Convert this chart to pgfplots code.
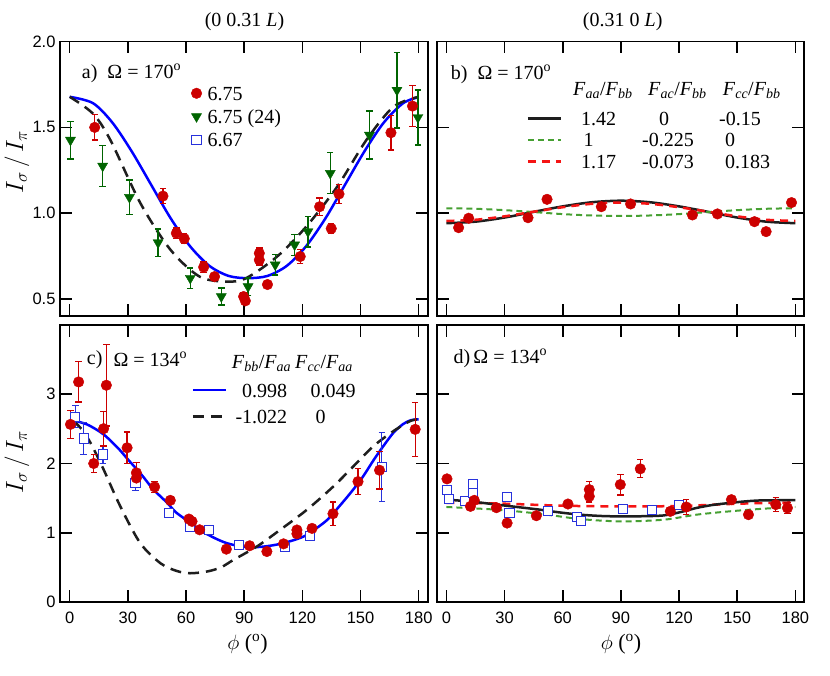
\documentclass[border=0pt]{standalone}
\usepackage{fontspec}
\setmainfont{Liberation Serif}
\setsansfont{Liberation Sans}
\usepackage{pgfplots}
\pgfplotsset{compat=1.18}
\definecolor{mred}{RGB}{204,0,0}
\definecolor{mgreen}{RGB}{0,100,0}
\definecolor{mblue}{RGB}{40,50,220}
\definecolor{cblue}{RGB}{0,0,255}
\definecolor{cblack}{RGB}{30,30,30}
\definecolor{cgreen}{RGB}{70,160,50}
\definecolor{cred}{RGB}{245,20,20}
\newcommand\bigf{\fontsize{20}{24}\selectfont}
% frame and inward ticks on all four sides
\newcommand\myframe[3]{%
  \pgfplotsinvokeforeach{0,30,60,90,120,150,180}{%
    \draw[line width=1.6pt, black] (axis cs:##1,#1) -- ++(0pt,12pt);
    \draw[line width=1.6pt, black] (axis cs:##1,#2) -- ++(0pt,-12pt);}
  \pgfplotsinvokeforeach{#3}{%
    \draw[line width=1.6pt, black] (axis cs:-5,##1) -- ++(12pt,0pt);
    \draw[line width=1.6pt, black] (axis cs:184.6,##1) -- ++(-12pt,0pt);}
  \draw[line width=1.8pt, black] (rel axis cs:0,0) rectangle (rel axis cs:1,1);
}
\pgfplotsset{
 myPanel/.style={scale only axis, width=367.6pt, xmin=-5, xmax=184.6, xtick={0,30,...,180},
   clip=false, tick align=inside, major tick length=12pt,
   major tick style={line width=1.6pt, black},
   tick label style={font=\sffamily\fontsize{16.5}{18}\selectfont},
   /pgf/number format/assume math mode=true,
   xticklabel style={yshift=-6.5pt}, yticklabel style={xshift=-1pt}},
 myUpper/.style={height=274.8pt, ymin=0.4, ymax=2.0, ytick={0.5,1.0,1.5,2.0}, xticklabels={}},
 myLower/.style={height=277pt, ymin=0, ymax=4, ytick={0,1,2,3}},
 redpts/.style={only marks, mark=*, mark size=5.3pt, color=mred, mark options={fill=mred, line width=0.4pt},
   error bars/y dir=both, error bars/y explicit,
   error bars/error bar style={line width=1.3pt, color=mred},
   error bars/error mark options={rotate=90, mark size=3.2pt, line width=1.3pt, color=mred}},
 greenpts/.style={only marks, mark=triangle*, mark size=5.8pt, color=mgreen, mark options={rotate=180, fill=mgreen, line width=0.4pt},
   error bars/y dir=both, error bars/y explicit,
   error bars/error bar style={line width=1.3pt, color=mgreen},
   error bars/error mark options={rotate=90, mark size=3.2pt, line width=1.3pt, color=mgreen}},
 bluepts/.style={only marks, mark=square*, mark size=4.6pt, color=mblue, mark options={fill=white, line width=1pt},
   error bars/y dir=both, error bars/y explicit,
   error bars/error bar style={line width=1.3pt, color=mblue},
   error bars/error mark options={rotate=90, mark size=3.2pt, line width=1.3pt, color=mblue}},
}
\begin{document}
\begin{tikzpicture}
\useasboundingbox (0pt,0pt) rectangle (830pt,675pt);

% ---------------- panel a ----------------
\begin{axis}[myPanel, myUpper, at={(60pt,358.7pt)}, anchor=south west,
  yticklabel style={/pgf/number format/.cd, fixed, fixed zerofill, precision=1},
  legend image code/.code={\draw[#1] plot coordinates {(0pt,0pt)};},
  legend cell align=left,
  legend style={at={(0.357,0.837)}, anchor=north west, draw=none, fill=none, inner sep=0pt, outer sep=0pt,
    row sep=9.3pt, column sep=5.8pt, nodes={inner sep=0pt, text height=14pt, text depth=0pt}, font=\bigf}]
\myframe{0.4}{2.0}{0.5,1.0,1.5,2.0}
\addplot[cblue, line width=2.5pt, smooth, forget plot] table[row sep=\\] {
0 1.678\\ 12 1.641\\ 22 1.528\\ 32 1.360\\ 42 1.166\\ 52 0.972\\ 62 0.809\\ 72 0.694\\ 82 0.635\\ 92 0.622\\
102 0.635\\ 112 0.694\\ 122 0.809\\ 132 0.972\\ 142 1.166\\ 152 1.360\\ 162 1.528\\ 172 1.641\\ 180 1.676\\
};
\addplot[cblack, line width=2.5pt, dash pattern=on 11pt off 7pt, smooth, forget plot] table[row sep=\\] {
0 1.678\\ 12 1.58\\ 21 1.426\\ 36.5 1.058\\ 52 0.787\\ 67 0.631\\ 81 0.602\\ 91 0.622\\ 107 0.748\\ 122 0.922\\
138 1.155\\ 153 1.426\\ 167 1.62\\ 180 1.678\\
};
\addplot[redpts] table[row sep=\\, y error index=2] {
12.9 1.50 0.073\\ 48.1 1.10 0.044\\ 55.0 0.884 0.03\\ 59.1 0.852 0.03\\ 69.1 0.686 0.03\\ 74.7 0.631 0.02\\
89.7 0.515 0.02\\ 90.6 0.49 0.02\\ 97.8 0.767 0.03\\ 97.8 0.728 0.03\\ 102.0 0.585 0.015\\ 118.9 0.748 0.04\\
128.9 1.038 0.05\\ 134.9 0.911 0.03\\ 138.9 1.112 0.055\\ 165.7 1.469 0.10\\ 176.8 1.624 0.12\\
};
\addlegendentry{6.75}
\addplot[greenpts] table[row sep=\\, y error index=2] {
0.4 1.426 0.11\\ 17.0 1.275 0.12\\ 30.8 1.093 0.10\\ 45.6 0.829 0.08\\ 62.2 0.622 0.06\\ 78.2 0.515 0.05\\
92.0 0.573 0.05\\ 106.0 0.700 0.06\\ 116.0 0.816 0.06\\ 122.9 0.893 0.09\\ 134.4 1.233 0.12\\ 154.6 1.455 0.14\\
168.8 1.717 0.22\\ 179.6 1.558 0.16\\
};
\addlegendentry{6.75 (24)}
\addlegendimage{only marks, mark=square*, mark size=4.6pt, color=mblue, mark options={fill=white, line width=1pt}}
\addlegendentry{6.67}
\end{axis}

% ---------------- panel b ----------------
\begin{axis}[myPanel, myUpper, at={(436.7pt,358.7pt)}, anchor=south west, yticklabels={},
  legend image code/.code={\draw[#1] (0pt,0pt) -- (33pt,0pt);},
  legend cell align=left,
  legend style={at={(0.2447,0.746)}, anchor=north west, draw=none, fill=none, inner sep=0pt, outer sep=0pt,
    row sep=7.5pt, column sep=19pt, nodes={inner sep=0pt, text height=14pt, text depth=0pt}, font=\bigf}]
\myframe{0.4}{2.0}{0.5,1.0,1.5,2.0}
\addplot[cblack, line width=2.5pt, smooth] table[row sep=\\] {
0 0.942\\ 15 0.951\\ 30 0.975\\ 45 1.008\\ 60 1.040\\ 75 1.064\\ 90 1.073\\ 105 1.064\\ 120 1.040\\ 135 1.008\\
150 0.975\\ 165 0.951\\ 180 0.942\\
};
\addlegendentry{\makebox[61pt][l]{1.42}\makebox[77pt][l]{\hspace{17pt}0}-0.15}
\addplot[cgreen, line width=2pt, dash pattern=on 6pt off 4pt, smooth] table[row sep=\\] {
0 1.029\\ 15 1.026\\ 30 1.018\\ 45 1.007\\ 60 0.995\\ 75 0.987\\ 90 0.984\\ 105 0.987\\ 120 0.995\\ 135 1.007\\
150 1.018\\ 165 1.026\\ 180 1.029\\
};
\addlegendentry{\makebox[61pt][l]{\hspace{2.5pt}1}\makebox[77pt][l]{-0.225}\hspace{6pt}0}
\addplot[cred, line width=2.5pt, dash pattern=on 8pt off 6pt, smooth] table[row sep=\\] {
0 0.955\\ 15 0.962\\ 30 0.982\\ 45 1.009\\ 60 1.035\\ 75 1.055\\ 90 1.062\\ 105 1.055\\ 120 1.035\\ 135 1.009\\
150 0.982\\ 165 0.962\\ 180 0.955\\
};
\addlegendentry{\makebox[61pt][l]{1.17}\makebox[77pt][l]{-0.073}\hspace{6pt}0.183}
\addplot[only marks, mark=*, mark size=5.3pt, color=mred, mark options={line width=0.4pt}, forget plot] table[row sep=\\] {
6.3 0.916\\ 11.5 0.971\\ 42.1 0.974\\ 51.9 1.081\\ 79.9 1.038\\ 95.0 1.054\\ 126.9 0.990\\ 139.8 0.996\\
158.9 0.951\\ 164.9 0.893\\ 178.0 1.062\\
};
\end{axis}

% ---------------- panel c ----------------
\begin{axis}[myPanel, myLower, at={(60pt,73pt)}, anchor=south west,
  legend image code/.code={\draw[#1] (0pt,0pt) -- (33pt,0pt);},
  legend cell align=left,
  legend style={at={(0.3584,0.7906)}, anchor=north west, draw=none, fill=none, inner sep=0pt, outer sep=0pt,
    row sep=12.7pt, column sep=8.3pt, nodes={inner sep=0pt, text height=14pt, text depth=0pt}, font=\bigf}]
\myframe{0}{4}{1,2,3}
\addplot[cblue, line width=2.5pt, smooth] table[row sep=\\] {
0 2.63\\ 5 2.60\\ 10 2.55\\ 17.5 2.42\\ 25 2.22\\ 30 2.06\\ 37 1.84\\ 43 1.63\\ 50 1.44\\ 55 1.29\\ 62 1.15\\
67 1.04\\ 75 0.92\\ 81 0.85\\ 87 0.81\\ 93 0.79\\ 100 0.80\\ 107 0.83\\ 114 0.88\\ 121 0.95\\ 127 1.06\\
133 1.19\\ 139 1.38\\ 145 1.58\\ 151 1.80\\ 157 2.06\\ 162 2.26\\ 167 2.445\\ 172 2.57\\ 176 2.625\\ 180 2.638\\
};
\addlegendentry{\makebox[75pt][l]{\hspace{6.7pt}0.998}0.049}
\addplot[cblack, line width=2.5pt, dash pattern=on 11pt off 7pt, smooth] table[row sep=\\] {
2 2.613\\ 6 2.50\\ 10.7 2.30\\ 17.5 1.913\\ 26.1 1.381\\ 36.4 0.85\\ 46.8 0.56\\ 55 0.45\\ 62 0.415\\ 70.8 0.44\\
78 0.50\\ 84.5 0.609\\ 96.6 0.802\\ 108.6 1.043\\ 122.4 1.333\\ 136.1 1.671\\ 146.4 1.961\\ 156.7 2.251\\
167 2.468\\ 175.6 2.613\\ 180 2.638\\
};
\addlegendentry{\makebox[75pt][l]{-1.022}\hspace{5pt}0}
\addplot[bluepts, forget plot] table[row sep=\\, y error index=2] {
2.9 2.676 0.16\\ 7.2 2.362 0.23\\ 17.2 2.13 0.13\\ 33.9 1.72 0.11\\ 51.1 1.285 0.03\\ 62.2 1.082 0.03\\
72.0 1.043 0.03\\ 87.5 0.826 0.03\\ 111.2 0.793 0.03\\ 124.1 0.957 0.07\\ 161.0 1.952 0.50\\
};
\addplot[redpts, forget plot] table[row sep=\\, y error index=2] {
0.4 2.565 0.2\\ 4.6 3.178 0.29\\ 12.4 2.00 0.13\\ 17.5 2.503 0.25\\ 18.9 3.13 0.59\\ 29.6 2.227 0.23\\
34.4 1.865 0.15\\ 34.4 1.79 0.10\\ 43.8 1.662 0.08\\ 51.9 1.468 0.05\\ 61.5 1.198 0.04\\ 63.1 1.164 0.04\\
67.0 1.043 0.04\\ 80.8 0.763 0.03\\ 92.8 0.812 0.03\\ 101.7 0.729 0.03\\ 110.3 0.840 0.04\\ 117.2 0.985 0.05\\
117.2 1.04 0.05\\ 125.0 1.063 0.05\\ 135.8 1.275 0.17\\ 148.7 1.739 0.19\\ 159.8 1.903 0.27\\ 178.2 2.493 0.39\\
};
\end{axis}

% ---------------- panel d ----------------
\begin{axis}[myPanel, myLower, at={(436.7pt,73pt)}, anchor=south west, yticklabels={}]
\myframe{0}{4}{1,2,3}
\addplot[cgreen, line width=2pt, dash pattern=on 6pt off 4pt, smooth] table[row sep=\\] {
0 1.372\\ 26 1.333\\ 48 1.275\\ 69 1.198\\ 90 1.164\\ 112 1.188\\ 129 1.261\\ 146 1.309\\ 164 1.348\\ 180 1.372\\
};
\addplot[cred, line width=2.5pt, dash pattern=on 8pt off 6pt, smooth] table[row sep=\\] {
0 1.43\\ 15 1.43\\ 35 1.415\\ 60 1.39\\ 90 1.381\\ 120 1.386\\ 146 1.415\\ 164 1.43\\ 180 1.439\\
};
\addplot[cblack, line width=2.5pt, smooth] table[row sep=\\] {
0 1.478\\ 13 1.45\\ 26 1.406\\ 37 1.37\\ 48.3 1.333\\ 58 1.295\\ 69 1.261\\ 80 1.242\\ 89.7 1.236\\ 100 1.238\\
112 1.25\\ 121 1.30\\ 129 1.358\\ 137 1.40\\ 146 1.43\\ 155 1.455\\ 163.6 1.468\\ 180 1.47\\
};
\addplot[bluepts] table[row sep=\\, y error index=2] {
0.3 1.623 0.02\\ 1.2 1.488 0.02\\ 9.8 1.453 0.02\\ 13.7 1.696 0.05\\ 13.7 1.575 0.03\\ 31.3 1.517 0.02\\
32.5 1.285 0.02\\ 52.2 1.319 0.03\\ 67.3 1.227 0.02\\ 69.6 1.174 0.02\\ 90.9 1.343 0.06\\ 105.9 1.333 0.04\\
119.8 1.406 0.04\\
};
\addplot[redpts] table[row sep=\\, y error index=2] {
0.3 1.778 0.03\\ 12.4 1.381 0.03\\ 14.4 1.468 0.03\\ 25.8 1.362 0.03\\ 31.3 1.14 0.03\\ 46.4 1.246 0.03\\
62.7 1.415 0.03\\ 73.7 1.623 0.12\\ 73.7 1.526 0.08\\ 89.7 1.696 0.15\\ 100.0 1.923 0.13\\ 115.5 1.309 0.05\\
123.7 1.372 0.11\\ 147.0 1.478 0.04\\ 155.8 1.261 0.04\\ 169.9 1.406 0.10\\ 175.9 1.358 0.08\\
};
\end{axis}

% ---------------- texts ----------------
\node[font=\bigf] at (244.5pt,653pt) {(0 0.31 \textit{L})};
\node[font=\bigf] at (622.7pt,653pt) {(0.31 0 \textit{L})};
\node[rotate=90, font=\fontsize{24}{28}\selectfont] at (17pt,513pt) {$I_\sigma\,/\,I_\pi$};
\node[rotate=90, font=\fontsize{24}{28}\selectfont] at (17pt,213pt) {$I_\sigma\,/\,I_\pi$};
\node[font=\fontsize{22}{26}\selectfont] at (247.5pt,31pt) {$\phi$ (\textsuperscript{o})};
\node[font=\fontsize{22}{26}\selectfont] at (621pt,31pt) {$\phi$ (\textsuperscript{o})};
\node[anchor=west, inner sep=0pt, font=\bigf] at (81.7pt,601.7pt) {a)\hspace{0.5em}Ω = 170\textsuperscript{o}};
\node[anchor=west, inner sep=0pt, font=\bigf] at (450.7pt,600.7pt) {b)\hspace{0.5em}Ω = 170\textsuperscript{o}};
\node[anchor=west, inner sep=0pt, font=\bigf] at (86.7pt,315.7pt) {c)};
\node[anchor=west, inner sep=0pt, font=\bigf] at (113.3pt,315.7pt) {Ω = 134\textsuperscript{o}};
\node[anchor=west, inner sep=0pt, font=\bigf] at (453.3pt,316.7pt) {d)\,Ω = 134\textsuperscript{o}};
% legend headers
\node[anchor=base west, inner sep=0pt, font=\bigf] at (573pt,579.3pt) {\textit{F}\textsubscript{\textit{aa}}/\textit{F}\textsubscript{\textit{bb}}};
\node[anchor=base west, inner sep=0pt, font=\bigf] at (648pt,579.3pt) {\textit{F}\textsubscript{\textit{ac}}/\textit{F}\textsubscript{\textit{bb}}};
\node[anchor=base west, inner sep=0pt, font=\bigf] at (722.7pt,579.3pt) {\textit{F}\textsubscript{\textit{cc}}/\textit{F}\textsubscript{\textit{bb}}};
\node[anchor=base west, inner sep=0pt, font=\bigf] at (231.7pt,306.7pt) {\textit{F}\textsubscript{\textit{bb}}/\textit{F}\textsubscript{\textit{aa}}};
\node[anchor=base west, inner sep=0pt, font=\bigf] at (295pt,306.7pt) {\textit{F}\textsubscript{\textit{cc}}/\textit{F}\textsubscript{\textit{aa}}};
\end{tikzpicture}
\end{document}
